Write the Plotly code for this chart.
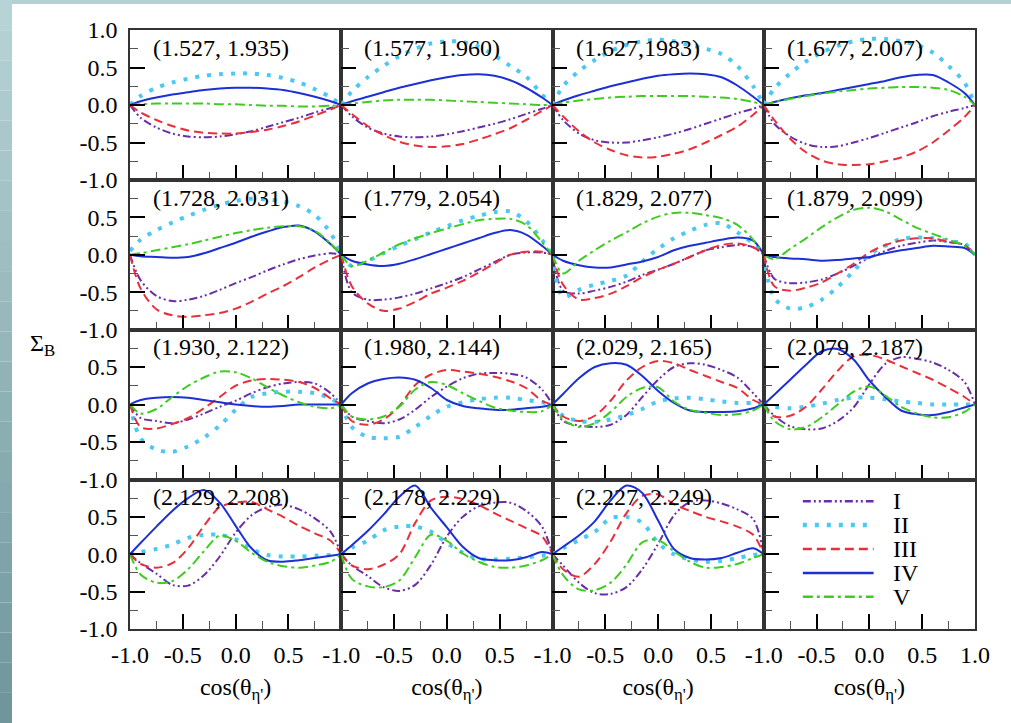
import plotly.graph_objects as go

# ---------------- data ----------------
cos_theta = [-1, -0.9, -0.75, -0.6, -0.45, -0.3, -0.15, 0, 0.15, 0.3, 0.45, 0.6, 0.75, 0.9, 1]

panel_labels = [
    "(1.527, 1.935)", "(1.577, 1.960)", "(1.627,1983)", "(1.677, 2.007)",
    "(1.728, 2.031)", "(1.779, 2.054)", "(1.829, 2.077)", "(1.879, 2.099)",
    "(1.930, 2.122)", "(1.980, 2.144)", "(2.029, 2.165)", "(2.079, 2.187)",
    "(2.129, 2.208)", "(2.178, 2.229)", "(2.227, 2.249)",
]

series_names = ["I", "II", "III", "IV", "V"]

sigma_I = [
    [0, -0.17, -0.30, -0.38, -0.42, -0.43, -0.42, -0.39, -0.35, -0.29, -0.23, -0.17, -0.10, -0.04, 0],
    [0, -0.15, -0.30, -0.38, -0.42, -0.43, -0.42, -0.39, -0.35, -0.30, -0.25, -0.19, -0.12, -0.05, 0],
    [0, -0.20, -0.38, -0.47, -0.50, -0.50, -0.47, -0.43, -0.38, -0.32, -0.25, -0.18, -0.11, -0.05, 0],
    [0, -0.25, -0.42, -0.52, -0.56, -0.55, -0.50, -0.44, -0.37, -0.30, -0.23, -0.15, -0.09, -0.04, 0],
    [0, -0.34, -0.55, -0.62, -0.60, -0.55, -0.47, -0.38, -0.30, -0.21, -0.13, -0.06, -0.01, 0.02, 0],
    [0, -0.50, -0.60, -0.60, -0.57, -0.52, -0.45, -0.38, -0.30, -0.20, -0.10, 0.00, 0.03, 0.03, 0],
    [0, -0.48, -0.52, -0.48, -0.43, -0.36, -0.27, -0.20, -0.12, -0.03, 0.06, 0.10, 0.13, 0.10, 0],
    [0, -0.32, -0.38, -0.37, -0.33, -0.25, -0.15, -0.04, 0.05, 0.12, 0.16, 0.19, 0.17, 0.13, 0],
    [0, -0.18, -0.22, -0.25, -0.20, -0.12, -0.03, 0.05, 0.15, 0.23, 0.28, 0.30, 0.28, 0.15, 0],
    [0, -0.16, -0.22, -0.25, -0.20, -0.07, 0.10, 0.24, 0.35, 0.41, 0.42, 0.41, 0.36, 0.20, 0],
    [0, -0.22, -0.28, -0.30, -0.27, -0.14, 0.10, 0.33, 0.50, 0.55, 0.53, 0.46, 0.36, 0.15, 0],
    [0, -0.15, -0.29, -0.33, -0.32, -0.22, -0.04, 0.27, 0.54, 0.63, 0.61, 0.56, 0.46, 0.30, 0],
    [0, -0.12, -0.26, -0.41, -0.42, -0.28, -0.03, 0.29, 0.52, 0.63, 0.66, 0.60, 0.48, 0.30, 0],
    [0, -0.15, -0.29, -0.44, -0.49, -0.41, -0.14, 0.24, 0.50, 0.64, 0.69, 0.69, 0.58, 0.37, 0],
    [0, -0.15, -0.38, -0.52, -0.53, -0.44, -0.20, 0.14, 0.52, 0.70, 0.72, 0.68, 0.60, 0.47, 0],
]

sigma_II = [
    [0, 0.12, 0.23, 0.30, 0.35, 0.39, 0.41, 0.42, 0.42, 0.40, 0.36, 0.30, 0.21, 0.10, 0],
    [0, 0.18, 0.37, 0.52, 0.65, 0.75, 0.82, 0.85, 0.84, 0.78, 0.66, 0.52, 0.38, 0.14, 0],
    [0, 0.25, 0.45, 0.60, 0.72, 0.80, 0.85, 0.87, 0.85, 0.80, 0.75, 0.68, 0.52, 0.25, 0],
    [0, 0.22, 0.42, 0.58, 0.70, 0.79, 0.85, 0.88, 0.88, 0.85, 0.80, 0.70, 0.52, 0.30, 0],
    [0.05, 0.20, 0.33, 0.43, 0.52, 0.60, 0.67, 0.72, 0.75, 0.74, 0.71, 0.65, 0.53, 0.29, 0],
    [0, -0.15, -0.08, 0.02, 0.12, 0.21, 0.30, 0.38, 0.46, 0.52, 0.57, 0.58, 0.45, 0.20, 0],
    [0, -0.56, -0.47, -0.40, -0.35, -0.28, -0.09, 0.08, 0.22, 0.32, 0.40, 0.42, 0.30, 0.15, 0],
    [0, -0.58, -0.72, -0.70, -0.60, -0.43, -0.22, 0.00, 0.12, 0.21, 0.23, 0.22, 0.18, 0.15, 0],
    [0, -0.45, -0.60, -0.63, -0.56, -0.44, -0.28, -0.07, 0.10, 0.15, 0.17, 0.17, 0.15, 0.08, 0],
    [0, -0.30, -0.43, -0.45, -0.43, -0.30, -0.15, -0.03, 0.03, 0.07, 0.09, 0.09, 0.06, 0.03, 0],
    [0, -0.15, -0.22, -0.23, -0.20, -0.14, -0.06, 0.04, 0.08, 0.09, 0.07, 0.04, 0.02, 0.02, 0],
    [0, -0.03, -0.05, -0.03, 0.01, 0.06, 0.09, 0.09, 0.07, 0.04, 0.02, 0.00, 0.00, 0.00, 0],
    [0, 0.03, 0.07, 0.13, 0.22, 0.26, 0.26, 0.20, 0.07, -0.01, -0.03, -0.03, -0.02, -0.01, 0],
    [0, 0.09, 0.18, 0.32, 0.37, 0.37, 0.30, 0.15, 0.02, -0.06, -0.07, -0.06, -0.04, -0.02, 0],
    [0, 0.08, 0.19, 0.30, 0.48, 0.50, 0.42, 0.15, 0.00, -0.07, -0.10, -0.09, -0.05, -0.01, 0],
]

sigma_III = [
    [0, -0.10, -0.20, -0.28, -0.34, -0.37, -0.38, -0.38, -0.36, -0.33, -0.28, -0.22, -0.14, -0.06, 0],
    [0, -0.12, -0.28, -0.40, -0.49, -0.54, -0.56, -0.55, -0.52, -0.46, -0.39, -0.31, -0.20, -0.08, 0],
    [0, -0.15, -0.35, -0.50, -0.60, -0.67, -0.70, -0.69, -0.65, -0.59, -0.50, -0.40, -0.29, -0.13, 0],
    [0, -0.20, -0.45, -0.63, -0.74, -0.79, -0.80, -0.79, -0.75, -0.70, -0.62, -0.50, -0.34, -0.16, 0],
    [0, -0.45, -0.73, -0.81, -0.83, -0.81, -0.78, -0.72, -0.63, -0.52, -0.42, -0.30, -0.17, -0.06, 0],
    [0, -0.42, -0.65, -0.75, -0.72, -0.63, -0.52, -0.44, -0.35, -0.24, -0.12, 0.00, 0.04, 0.04, 0],
    [0, -0.40, -0.60, -0.58, -0.52, -0.42, -0.30, -0.20, -0.12, -0.03, 0.06, 0.13, 0.15, 0.10, 0],
    [0, -0.42, -0.48, -0.44, -0.37, -0.25, -0.12, 0.03, 0.13, 0.19, 0.22, 0.22, 0.17, 0.13, 0],
    [0, -0.30, -0.32, -0.26, -0.18, -0.05, 0.10, 0.25, 0.32, 0.34, 0.33, 0.30, 0.22, 0.08, 0],
    [0, -0.22, -0.27, -0.20, -0.02, 0.26, 0.40, 0.46, 0.44, 0.41, 0.37, 0.31, 0.22, 0.05, 0],
    [0, -0.16, -0.22, -0.15, 0.05, 0.32, 0.50, 0.58, 0.55, 0.46, 0.38, 0.30, 0.22, 0.06, 0],
    [0, -0.16, -0.15, -0.03, 0.20, 0.45, 0.64, 0.66, 0.60, 0.51, 0.42, 0.33, 0.22, 0.10, 0],
    [0, -0.13, -0.18, -0.12, 0.08, 0.38, 0.63, 0.69, 0.70, 0.60, 0.50, 0.38, 0.28, 0.18, 0],
    [0, -0.15, -0.20, -0.14, 0.00, 0.42, 0.72, 0.77, 0.74, 0.66, 0.55, 0.45, 0.35, 0.24, 0],
    [0, -0.20, -0.30, -0.13, 0.17, 0.55, 0.78, 0.80, 0.67, 0.58, 0.50, 0.44, 0.37, 0.26, 0],
]

sigma_IV = [
    [0, 0.05, 0.10, 0.14, 0.17, 0.20, 0.22, 0.23, 0.23, 0.22, 0.20, 0.16, 0.11, 0.05, 0],
    [0, 0.05, 0.11, 0.17, 0.23, 0.28, 0.33, 0.37, 0.40, 0.41, 0.39, 0.33, 0.23, 0.10, 0],
    [0, 0.06, 0.13, 0.19, 0.25, 0.30, 0.35, 0.39, 0.41, 0.42, 0.41, 0.37, 0.26, 0.11, 0],
    [0, 0.04, 0.09, 0.13, 0.16, 0.20, 0.24, 0.28, 0.32, 0.37, 0.40, 0.40, 0.30, 0.16, 0],
    [0, -0.02, -0.03, -0.04, -0.03, 0.02, 0.09, 0.16, 0.24, 0.31, 0.37, 0.39, 0.31, 0.14, 0],
    [0, -0.08, -0.13, -0.15, -0.12, -0.06, 0.01, 0.08, 0.15, 0.22, 0.29, 0.33, 0.27, 0.12, 0],
    [0, -0.08, -0.14, -0.17, -0.17, -0.13, -0.09, -0.03, 0.06, 0.12, 0.16, 0.20, 0.23, 0.19, 0],
    [0, -0.03, -0.05, -0.06, -0.08, -0.07, -0.05, -0.03, 0.02, 0.06, 0.09, 0.12, 0.11, 0.09, 0],
    [0, 0.06, 0.09, 0.10, 0.09, 0.06, 0.03, 0.00, -0.02, -0.03, -0.02, 0.00, 0.00, 0.00, 0],
    [0, 0.15, 0.28, 0.34, 0.36, 0.33, 0.22, 0.06, -0.02, -0.05, -0.07, -0.07, -0.05, -0.03, 0],
    [0, 0.14, 0.35, 0.50, 0.55, 0.53, 0.38, 0.18, 0.02, -0.08, -0.10, -0.10, -0.09, -0.05, 0],
    [0, 0.13, 0.33, 0.53, 0.71, 0.74, 0.60, 0.32, 0.10, -0.08, -0.13, -0.14, -0.10, -0.04, 0],
    [0, 0.15, 0.37, 0.58, 0.75, 0.86, 0.69, 0.38, 0.08, -0.08, -0.10, -0.08, -0.05, -0.02, 0],
    [0, 0.12, 0.31, 0.53, 0.77, 0.92, 0.62, 0.36, 0.10, -0.05, -0.08, -0.08, -0.04, 0.03, 0],
    [0, 0.10, 0.25, 0.44, 0.72, 0.92, 0.82, 0.45, 0.07, -0.05, -0.07, -0.05, 0.02, 0.08, 0],
]

sigma_V = [
    [0, 0.01, 0.02, 0.02, 0.02, 0.02, 0.01, 0.01, 0.00, -0.01, -0.01, -0.02, -0.02, -0.01, 0],
    [0, 0.02, 0.04, 0.06, 0.07, 0.07, 0.07, 0.06, 0.05, 0.04, 0.03, 0.02, 0.01, 0.00, 0],
    [0, 0.03, 0.06, 0.08, 0.10, 0.11, 0.12, 0.12, 0.12, 0.12, 0.11, 0.10, 0.08, 0.04, 0],
    [0, 0.04, 0.08, 0.12, 0.15, 0.18, 0.20, 0.22, 0.23, 0.24, 0.24, 0.23, 0.20, 0.11, 0],
    [0, 0.02, 0.06, 0.10, 0.14, 0.19, 0.24, 0.29, 0.33, 0.36, 0.38, 0.38, 0.32, 0.15, 0],
    [0, -0.15, -0.08, 0.03, 0.14, 0.22, 0.29, 0.35, 0.41, 0.46, 0.48, 0.48, 0.40, 0.17, 0],
    [0, -0.25, -0.08, 0.06, 0.19, 0.30, 0.42, 0.51, 0.56, 0.56, 0.53, 0.49, 0.40, 0.20, 0],
    [0, -0.06, 0.08, 0.22, 0.37, 0.50, 0.60, 0.63, 0.58, 0.47, 0.36, 0.28, 0.20, 0.12, 0],
    [0, -0.12, -0.06, 0.10, 0.25, 0.36, 0.44, 0.43, 0.35, 0.23, 0.12, 0.03, -0.03, -0.05, 0],
    [0, -0.16, -0.20, -0.16, -0.03, 0.20, 0.30, 0.26, 0.15, 0.05, -0.04, -0.08, -0.10, -0.09, 0],
    [0, -0.20, -0.30, -0.25, -0.10, 0.10, 0.22, 0.23, 0.04, -0.07, -0.11, -0.14, -0.13, -0.08, 0],
    [0, -0.22, -0.33, -0.30, -0.17, 0.00, 0.17, 0.24, 0.12, -0.03, -0.12, -0.17, -0.17, -0.10, 0],
    [0, -0.27, -0.38, -0.36, -0.20, 0.04, 0.25, 0.18, 0.02, -0.10, -0.16, -0.18, -0.15, -0.10, 0],
    [0, -0.33, -0.43, -0.44, -0.35, -0.04, 0.26, 0.18, 0.01, -0.10, -0.17, -0.18, -0.15, -0.08, 0],
    [0, -0.28, -0.47, -0.48, -0.38, -0.14, 0.16, 0.19, 0.04, -0.10, -0.18, -0.17, -0.13, -0.05, 0],
]

y_ticks = [-1.0, -0.5, 0.0, 0.5, 1.0]
x_ticks = [-1.0, -0.5, 0.0, 0.5, 1.0]
tick_text = ["-1.0", "-0.5", "0.0", "0.5", "1.0"]

# ---------------- styles ----------------
W, H = 1011, 723
FONT = "Liberation Serif"
FS = 24
styles = {
    "I":   dict(color="#6a2ea6", dash="8px,3px,2px,3px,2px,3px", width=2),
    "II":  dict(color="#4cc8f2", dash="4px,8px", width=4),
    "III": dict(color="#e8303c", dash="9px,5px", width=2),
    "IV":  dict(color="#1c30d6", dash="solid", width=2),
    "V":   dict(color="#3fcc20", dash="10px,4px,3px,4px", width=2),
}
series_data = [sigma_I, sigma_II, sigma_III, sigma_IV, sigma_V]

col_px = [130, 341.25, 552.5, 763.75, 975]
row_px = [30, 180, 329.5, 479.5, 629]

fig = go.Figure()

for p in range(15):
    sfx = "" if p == 0 else str(p + 1)
    for name, data in zip(series_names, series_data):
        st = styles[name]
        fig.add_trace(go.Scatter(
            x=cos_theta, y=data[p], mode="lines", name=name,
            legendgroup=name, showlegend=False,
            line=dict(color=st["color"], dash=st["dash"], width=st["width"],
                      shape="spline", smoothing=0.9),
            xaxis="x" + sfx, yaxis="y" + sfx, hoverinfo="skip",
        ))

# empty trace so that the 16th (key) panel is drawn
fig.add_trace(go.Scatter(x=[None], y=[None], mode="lines", showlegend=False,
                         xaxis="x16", yaxis="y16", hoverinfo="skip"))

layout = dict(
    width=W, height=H,
    margin=dict(l=0, r=0, t=0, b=0, autoexpand=False),
    paper_bgcolor="white", plot_bgcolor="white",
    font=dict(family=FONT, size=FS, color="black"),
    showlegend=False,
)

for i in range(16):
    r, c = divmod(i, 4)
    sfx = "" if i == 0 else str(i + 1)
    ytext = list(tick_text) if c == 0 else [""] * 5
    if c == 0 and r > 0:
        ytext[4] = ""
    xtext = list(tick_text) if r == 3 else [""] * 5
    if r == 3 and c < 3:
        xtext[4] = ""
    layout["xaxis" + sfx] = dict(
        domain=[col_px[c] / W, col_px[c + 1] / W], anchor="y" + sfx,
        range=[-1, 1], tickmode="array", tickvals=x_ticks, ticktext=xtext,
        ticks="inside", ticklen=15, tickwidth=2, tickcolor="black",
        minor=dict(dtick=0.25, tick0=0, ticks="inside", ticklen=8, tickwidth=1, tickcolor="#555"),
        showline=True, mirror=True, linecolor="#333", linewidth=1.5,
        showgrid=False, zeroline=False, ticklabelstandoff=3, automargin=False,
        tickfont=dict(family=FONT, size=FS),
        title=dict(text="cos(θ<sub>η'</sub>)" if r == 3 else "", standoff=12,
                   font=dict(family=FONT, size=FS)),
    )
    layout["yaxis" + sfx] = dict(
        domain=[1 - row_px[r + 1] / H, 1 - row_px[r] / H], anchor="x" + sfx,
        range=[-1, 1], tickmode="array", tickvals=y_ticks, ticktext=ytext,
        ticks="inside", ticklen=15, tickwidth=2, tickcolor="black",
        minor=dict(dtick=0.25, tick0=0, ticks="inside", ticklen=8, tickwidth=1, tickcolor="#555"),
        showline=True, mirror=True, linecolor="#333", linewidth=1.5,
        showgrid=False, zeroline=False, ticklabelstandoff=6, automargin=False,
        tickfont=dict(family=FONT, size=FS),
    )

fig.update_layout(**layout)

# panel labels
for p, lab in enumerate(panel_labels):
    sfx = "" if p == 0 else str(p + 1)
    fig.add_annotation(text=lab, xref="x" + sfx + " domain", yref="y" + sfx + " domain",
                       x=0.1, y=0.88, xanchor="left", yanchor="middle", showarrow=False,
                       font=dict(family=FONT, size=FS, color="black"))

# y-axis symbol
fig.add_annotation(text="Σ<sub>B</sub>", xref="paper", yref="paper",
                   x=42 / W, y=1 - 345 / H, xanchor="center", yanchor="middle",
                   showarrow=False, font=dict(family=FONT, size=FS, color="black"))

shapes = []
# key drawn inside the 16th panel
key_rows = [0.855, 0.695, 0.535, 0.375, 0.215]
for name, ky in zip(series_names, key_rows):
    st = styles[name]
    shapes.append(dict(type="line", xref="x16 domain", yref="y16 domain",
                       x0=0.185, x1=0.52, y0=ky, y1=ky,
                       line=dict(color=st["color"], dash=st["dash"], width=st["width"] + 0.5)))
    fig.add_annotation(text=name, xref="x16 domain", yref="y16 domain",
                       x=0.6, y=ky, xanchor="left", yanchor="middle", showarrow=False,
                       font=dict(family=FONT, size=FS, color="black"))

# slide background frame (gradient bands)
n_band = 24
top_rgb = (182, 211, 214)
bot_rgb = (112, 150, 156)
for k in range(n_band):
    t = k / (n_band - 1)
    col = "rgb(%d,%d,%d)" % tuple(round(a + (b - a) * t) for a, b in zip(top_rgb, bot_rgb))
    shapes.append(dict(type="rect", xref="paper", yref="paper", layer="below",
                       x0=0, x1=12 / W, y0=1 - (k + 1) / n_band, y1=1 - k / n_band,
                       fillcolor=col, line=dict(width=0)))
shapes.append(dict(type="rect", xref="paper", yref="paper", layer="below",
                   x0=12 / W, x1=1, y0=1 - 4 / H, y1=1,
                   fillcolor="rgb(180,208,211)", line=dict(width=0)))
fig.update_layout(shapes=shapes)

# remove the browser's default page margin so the figure sits at the window origin
fig.write_html("out.html", config={"displayModeBar": False},
               post_script="document.body.style.margin='0';document.body.style.overflow='hidden';")
